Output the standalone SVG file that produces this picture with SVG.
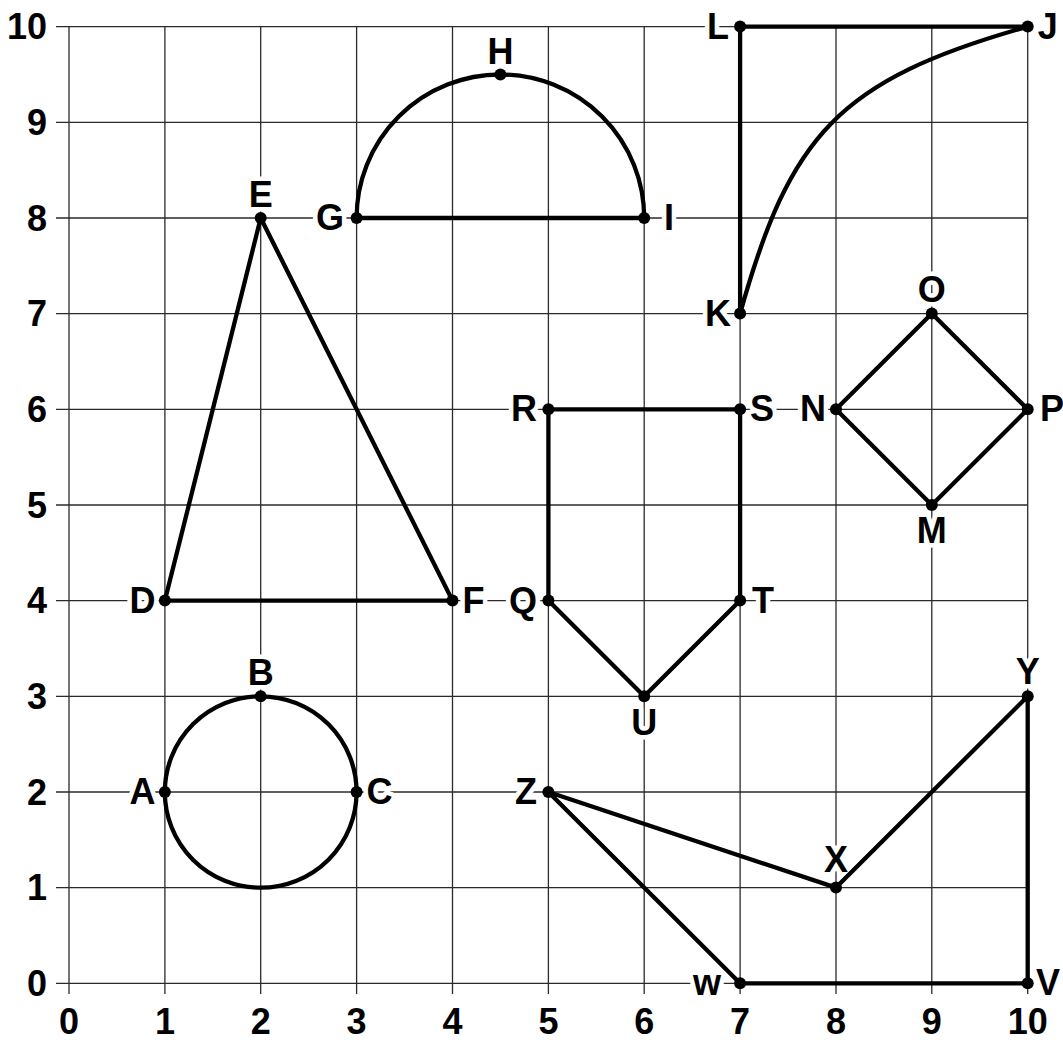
<svg xmlns="http://www.w3.org/2000/svg" width="1063" height="1040" viewBox="0 0 1063 1040">
<style>
.grid line{stroke:#2a2a2a;stroke-width:1.3}
.shape{fill:none;stroke:#000;stroke-width:4.3;stroke-linejoin:round;stroke-linecap:round}
.pt{fill:#000}
text{font-family:"Liberation Sans",Arial,Helvetica,sans-serif;font-weight:bold;font-size:36px;fill:#000}
.lbl{paint-order:stroke;stroke:#fff;stroke-width:9;stroke-linejoin:round}
.m{text-anchor:middle}.e{text-anchor:end}.s{text-anchor:start}
</style>
<rect width="1063" height="1040" fill="#fff"/>
<g id="grid" class="grid">
<line x1="69" y1="26.6" x2="69" y2="994"/>
<line x1="164.9" y1="26.6" x2="164.9" y2="994"/>
<line x1="260.7" y1="26.6" x2="260.7" y2="994"/>
<line x1="356.6" y1="26.6" x2="356.6" y2="994"/>
<line x1="452.5" y1="26.6" x2="452.5" y2="994"/>
<line x1="548.4" y1="26.6" x2="548.4" y2="994"/>
<line x1="644.2" y1="26.6" x2="644.2" y2="994"/>
<line x1="740.1" y1="26.6" x2="740.1" y2="994"/>
<line x1="836" y1="26.6" x2="836" y2="994"/>
<line x1="931.8" y1="26.6" x2="931.8" y2="994"/>
<line x1="1027.7" y1="26.6" x2="1027.7" y2="994"/>
<line x1="56" y1="983.3" x2="1027.7" y2="983.3"/>
<line x1="56" y1="887.6" x2="1027.7" y2="887.6"/>
<line x1="56" y1="792" x2="1027.7" y2="792"/>
<line x1="56" y1="696.3" x2="1027.7" y2="696.3"/>
<line x1="56" y1="600.6" x2="1027.7" y2="600.6"/>
<line x1="56" y1="505" x2="1027.7" y2="505"/>
<line x1="56" y1="409.3" x2="1027.7" y2="409.3"/>
<line x1="56" y1="313.6" x2="1027.7" y2="313.6"/>
<line x1="56" y1="218" x2="1027.7" y2="218"/>
<line x1="56" y1="122.3" x2="1027.7" y2="122.3"/>
<line x1="56" y1="26.6" x2="1027.7" y2="26.6"/>
</g>
<g id="axis-labels">
<text class="e" x="47" y="996">0</text>
<text class="e" x="47" y="900.3">1</text>
<text class="e" x="47" y="804.7">2</text>
<text class="e" x="47" y="709">3</text>
<text class="e" x="47" y="613.3">4</text>
<text class="e" x="47" y="517.7">5</text>
<text class="e" x="47" y="422">6</text>
<text class="e" x="47" y="326.3">7</text>
<text class="e" x="47" y="230.7">8</text>
<text class="e" x="47" y="135">9</text>
<text class="e" x="47" y="39.3">10</text>
<text class="m" x="69" y="1034">0</text>
<text class="m" x="164.9" y="1034">1</text>
<text class="m" x="260.7" y="1034">2</text>
<text class="m" x="356.6" y="1034">3</text>
<text class="m" x="452.5" y="1034">4</text>
<text class="m" x="548.4" y="1034">5</text>
<text class="m" x="644.2" y="1034">6</text>
<text class="m" x="740.1" y="1034">7</text>
<text class="m" x="836" y="1034">8</text>
<text class="m" x="931.8" y="1034">9</text>
<text class="m" x="1027.7" y="1034">10</text>
</g>
<g id="point-labels" class="lbl">
<text class="e" x="155.5" y="804">A</text>
<text class="m" x="260.7" y="685">B</text>
<text class="s" x="366.6" y="804">C</text>
<text class="e" x="155.5" y="612.6">D</text>
<text class="m" x="260.7" y="207">E</text>
<text class="s" x="462.5" y="612.6">F</text>
<text class="e" x="344" y="230">G</text>
<text class="m" x="500.4" y="63.5">H</text>
<text class="s" x="664" y="230">I</text>
<text class="s" x="1037.7" y="38.6">J</text>
<text class="e" x="731" y="325.6">K</text>
<text class="e" x="729" y="38.6">L</text>
<text class="m" x="931.8" y="543">M</text>
<text class="e" x="826" y="421.3">N</text>
<text class="m" x="931.8" y="301.6">O</text>
<text class="s" x="1040" y="421.3">P</text>
<text class="e" x="537" y="612.6">Q</text>
<text class="e" x="537" y="421.3">R</text>
<text class="s" x="750" y="421.3">S</text>
<text class="s" x="752" y="612.6">T</text>
<text class="m" x="644.2" y="735">U</text>
<text class="s" x="1036" y="995.3">V</text>
<text class="e" x="721" y="995.3">w</text>
<text class="m" x="836" y="872">X</text>
<text class="m" x="1027.7" y="684">Y</text>
<text class="e" x="537" y="804">Z</text>
</g>
<g id="connectors">
<g id="circle-ABC"><ellipse class="shape" cx="260.7" cy="792" rx="95.87" ry="95.67"/></g>
<g id="triangle-DEF"><polygon class="shape" points="164.9,600.6 260.7,218 452.5,600.6"/></g>
<g id="semicircle-GHI"><path class="shape" d="M356.6,218 A143.8,143.5 0 0 1 644.2,218 Z"/></g>
<g id="shape-LJK"><path class="shape" d="M740.1,313.6 L740.1,26.6 L1027.7,26.6 M740.1,313.6 C790,135 838,80 1027.7,26.6"/></g>
<g id="pentagon-RSTUQ"><polygon class="shape" points="548.4,409.3 740.1,409.3 740.1,600.6 644.2,696.3 548.4,600.6"/></g>
<g id="diamond-NOPM"><polygon class="shape" points="836,409.3 931.8,313.6 1027.7,409.3 931.8,505"/></g>
<g id="polygon-ZXYVW"><polygon class="shape" points="548.4,792 836,887.6 1027.7,696.3 1027.7,983.3 740.1,983.3"/></g>
</g>
<g id="points" class="pt">
<circle cx="164.9" cy="792" r="6"/>
<circle cx="260.7" cy="696.3" r="6"/>
<circle cx="356.6" cy="792" r="6"/>
<circle cx="164.9" cy="600.6" r="6"/>
<circle cx="260.7" cy="218" r="6"/>
<circle cx="452.5" cy="600.6" r="6"/>
<circle cx="356.6" cy="218" r="6"/>
<circle cx="500.4" cy="74.5" r="6"/>
<circle cx="644.2" cy="218" r="6"/>
<circle cx="1027.7" cy="26.6" r="6"/>
<circle cx="740.1" cy="313.6" r="6"/>
<circle cx="740.1" cy="26.6" r="6"/>
<circle cx="931.8" cy="505" r="6"/>
<circle cx="836" cy="409.3" r="6"/>
<circle cx="931.8" cy="313.6" r="6"/>
<circle cx="1027.7" cy="409.3" r="6"/>
<circle cx="548.4" cy="600.6" r="6"/>
<circle cx="548.4" cy="409.3" r="6"/>
<circle cx="740.1" cy="409.3" r="6"/>
<circle cx="740.1" cy="600.6" r="6"/>
<circle cx="644.2" cy="696.3" r="6"/>
<circle cx="1027.7" cy="983.3" r="6"/>
<circle cx="740.1" cy="983.3" r="6"/>
<circle cx="836" cy="887.6" r="6"/>
<circle cx="1027.7" cy="696.3" r="6"/>
<circle cx="548.4" cy="792" r="6"/>
</g>
</svg>
